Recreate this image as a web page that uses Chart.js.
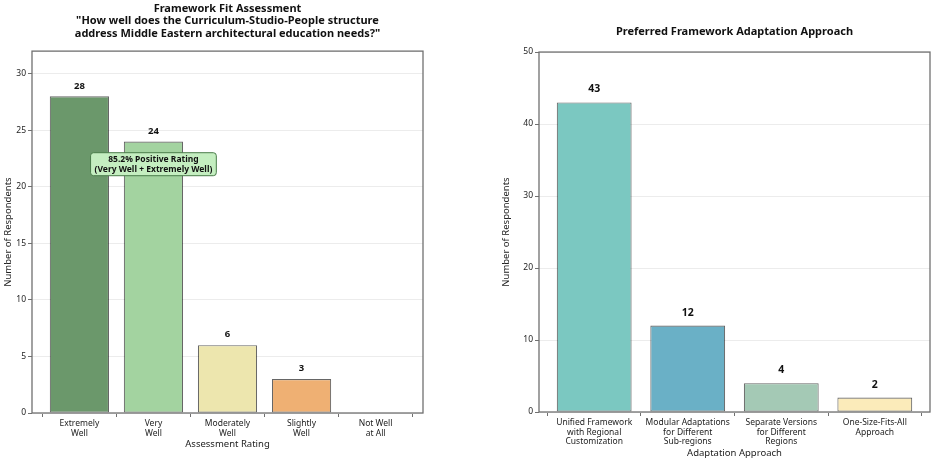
<!DOCTYPE html>
<html>
<head>
<meta charset="utf-8">
<script src="https://cdn.jsdelivr.net/npm/chart.js@4.4.1/dist/chart.umd.min.js"></script>
<style>
  html, body { margin: 0; padding: 0; background: #ffffff; }
  body { width: 935px; height: 464px; position: relative; overflow: hidden; }
  #w1 { position: absolute; left: 0; top: 0; width: 467px; height: 464px; }
  #w2 { position: absolute; left: 467px; top: 0; width: 468px; height: 464px; }
</style>
</head>
<body>
<div id="w1"><canvas id="c1"></canvas></div>
<div id="w2"><canvas id="c2"></canvas></div>
<script>
// ---- Data ----
const fitTitle = ['Framework Fit Assessment', '"How well does the Curriculum-Studio-People structure', 'address Middle Eastern architectural education needs?"'];
const fitCategories = [['Extremely', 'Well'], ['Very', 'Well'], ['Moderately', 'Well'], ['Slightly', 'Well'], ['Not Well', 'at All']];
const fitCounts = [28, 24, 6, 3, 0];
const fitYTicks = [0, 5, 10, 15, 20, 25, 30];
const fitColors = ['#6b986b', '#a3d3a0', '#ede6ae', '#efb073', '#e08080'];
const fitAnnotationLines = ['85.2% Positive Rating', '(Very Well + Extremely Well)'];
const fitAnnotationAt = { x: 1, y: 22 };

const adaptTitle = 'Preferred Framework Adaptation Approach';
const adaptCategories = [['Unified Framework', 'with Regional', 'Customization'], ['Modular Adaptations', 'for Different', 'Sub-regions'], ['Separate Versions', 'for Different', 'Regions'], ['One-Size-Fits-All', 'Approach']];
const adaptCounts = [43, 12, 4, 2];
const adaptYTicks = [0, 10, 20, 30, 40, 50];
const adaptColors = ['#7bc8c1', '#6ab0c6', '#a4c9b5', '#fbebba'];

// ---- Style ----
const FONT = '"Noto Sans", "Open Sans", "DejaVu Sans", sans-serif';
const SPINE = '#707070';
const TEXT = '#222222';

const framePlugin = {
  id: 'frame',
  afterDatasetsDraw(chart) {
    const { ctx, chartArea: a } = chart;
    ctx.save();
    ctx.strokeStyle = SPINE;
    ctx.lineWidth = 1.3;
    ctx.strokeRect(a.left, a.top, a.right - a.left, a.bottom - a.top);
    ctx.restore();
  }
};

const valueLabelPlugin = {
  id: 'valueLabels',
  afterDatasetsDraw(chart, args, opts) {
    const { ctx } = chart;
    const meta = chart.getDatasetMeta(0);
    const data = chart.data.datasets[0].data;
    ctx.save();
    ctx.font = 'bold ' + opts.size + 'px ' + FONT;
    ctx.fillStyle = '#111';
    ctx.textAlign = 'center';
    ctx.textBaseline = 'middle';
    meta.data.forEach((bar, i) => {
      const v = data[i].y;
      if (v > 0) ctx.fillText(String(v), bar.x, bar.y - opts.offset);
    });
    ctx.restore();
  }
};

const annotationPlugin = {
  id: 'noteBox',
  afterDatasetsDraw(chart, args, opts) {
    if (!opts.lines) return;
    const { ctx } = chart;
    const cx = chart.scales.x.getPixelForValue(opts.at.x);
    const cy = chart.scales.y.getPixelForValue(opts.at.y);
    ctx.save();
    ctx.font = 'bold 8.5px ' + FONT;
    const w = Math.max(...opts.lines.map(l => ctx.measureText(l).width)) + 8;
    const lh = 10;
    const h = opts.lines.length * lh + 3;
    const x0 = cx - w / 2, y0 = cy - h / 2;
    ctx.beginPath();
    ctx.roundRect(x0, y0, w, h, 3);
    ctx.fillStyle = '#c4eec0';
    ctx.fill();
    ctx.strokeStyle = '#4a7c4a';
    ctx.lineWidth = 1;
    ctx.stroke();
    ctx.fillStyle = '#111';
    ctx.textAlign = 'center';
    ctx.textBaseline = 'middle';
    opts.lines.forEach((l, i) => {
      ctx.fillText(l, cx, cy + (i - (opts.lines.length - 1) / 2) * lh);
    });
    ctx.restore();
  }
};

function makeChart(id, cfg) {
  const n = cfg.categories.length;
  const margin = 0.05 * (n - 1 + 0.8);
  return new Chart(document.getElementById(id), {
    type: 'bar',
    data: {
      datasets: [{
        data: cfg.values.map((v, i) => ({ x: i, y: v })),
        backgroundColor: cfg.colors,
        borderColor: 'rgba(0,0,0,0.6)',
        borderWidth: 1.1,
        borderSkipped: false,
        barPercentage: 0.8,
        categoryPercentage: 1.0
      }]
    },
    options: {
      responsive: true,
      maintainAspectRatio: false,
      animation: false,
      devicePixelRatio: 1,
      layout: { padding: cfg.layoutPadding },
      plugins: {
        legend: { display: false },
        tooltip: { enabled: false },
        title: {
          display: true,
          text: cfg.title,
          fullSize: false,
          color: '#111',
          font: { family: FONT, size: 11, weight: 'bold', lineHeight: 1.14 },
          padding: cfg.titlePadding
        },
        valueLabels: cfg.valueLabel,
        noteBox: cfg.note || {}
      },
      scales: {
        x: {
          type: 'linear',
          min: -0.4 - margin,
          max: n - 1 + 0.4 + margin,
          offset: false,
          afterBuildTicks: s => { s.ticks = cfg.categories.map((_, i) => ({ value: i })); },
          afterFit: s => { s.height = cfg.xHeight; },
          grid: { display: true, drawOnChartArea: false, drawTicks: true, tickLength: 4, tickColor: SPINE, tickWidth: 1 },
          border: { display: false },
          ticks: {
            callback: v => cfg.categories[v],
            autoSkip: false,
            maxRotation: 0,
            padding: 2,
            color: TEXT,
            font: { family: FONT, size: 8.5, lineHeight: 1.12 }
          },
          title: {
            display: true,
            text: cfg.xTitle,
            color: TEXT,
            font: { family: FONT, size: 9.5, lineHeight: 1.2 },
            padding: { top: 0, bottom: cfg.xTitleBottom }
          }
        },
        y: {
          min: 0,
          max: cfg.yMax,
          afterBuildTicks: s => { s.ticks = cfg.yTicks.map(v => ({ value: v })); },
          afterFit: s => { s.width = cfg.yWidth; },
          grid: { color: '#ececec', lineWidth: 1, tickLength: 4, tickColor: SPINE, tickWidth: 1 },
          border: { display: false },
          ticks: { padding: 2, color: TEXT, font: { family: FONT, size: 8.5 } },
          title: {
            display: true,
            text: 'Number of Respondents',
            color: TEXT,
            font: { family: FONT, size: 9.5, lineHeight: 1.2 },
            padding: { top: cfg.yTitleTop, bottom: 0 }
          }
        }
      }
    },
    plugins: [framePlugin, valueLabelPlugin, annotationPlugin]
  });
}

makeChart('c1', {
  title: fitTitle,
  categories: fitCategories,
  values: fitCounts,
  colors: fitColors,
  yTicks: fitYTicks,
  yMax: 32,
  xTitle: 'Assessment Rating',
  layoutPadding: { top: 0, right: 44, bottom: 0, left: 0 },
  titlePadding: { top: 2.2, bottom: 11.3 },
  xHeight: 51,
  xTitleBottom: 14.3,
  yWidth: 32,
  yTitleTop: 2.5,
  valueLabel: { size: 9.5, offset: 10.5 },
  note: { lines: fitAnnotationLines, at: fitAnnotationAt }
});

makeChart('c2', {
  title: adaptTitle,
  categories: adaptCategories,
  values: adaptCounts,
  colors: adaptColors,
  yTicks: adaptYTicks,
  yMax: 50,
  xTitle: 'Adaptation Approach',
  layoutPadding: { top: 0, right: 5, bottom: 0, left: 0 },
  titlePadding: { top: 25.7, bottom: 13.8 },
  xHeight: 52,
  xTitleBottom: 5.3,
  yWidth: 72,
  yTitleTop: 34,
  valueLabel: { size: 10.5, offset: 13 }
});
</script>
</body>
</html>
